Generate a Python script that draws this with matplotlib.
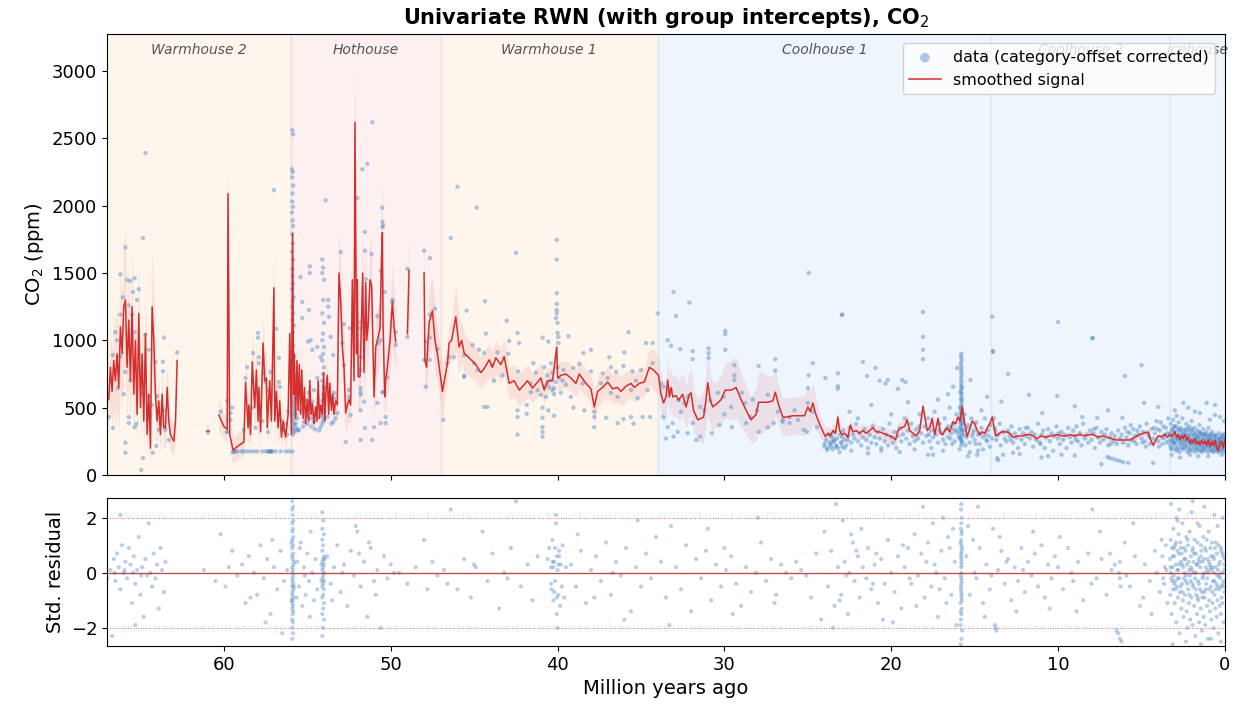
import matplotlib
matplotlib.use("Agg")
import matplotlib.pyplot as plt
import numpy as np

# climate states (Ma)
era_start = [67, 56, 47, 34, 14, 3.3]
era_end = [56, 47, 34, 14, 3.3, 0]
era_name = ["Warmhouse 2", "Hothouse", "Warmhouse 1", "Coolhouse 1", "Coolhouse 2", "Icehouse"]

# smoothed signal segments: (age Ma, CO2 ppm, band half-width)
seg_a = [(66.9, 560, 250), (66.8, 800, 300), (66.7, 620, 300), (66.6, 850, 350), (66.5, 700, 350),
         (66.4, 900, 400), (66.3, 650, 350), (66.2, 1100, 450), (66.1, 900, 400), (66.0, 1250, 500),
         (65.9, 1300, 500), (65.8, 800, 400), (65.7, 1150, 450), (65.6, 700, 350), (65.5, 1250, 500),
         (65.4, 600, 300), (65.3, 1000, 400), (65.2, 450, 250), (65.1, 1200, 450), (65.0, 500, 250),
         (64.9, 900, 350), (64.8, 400, 250), (64.7, 1050, 400), (64.6, 300, 200), (64.5, 600, 250),
         (64.4, 200, 150), (64.3, 1250, 450), (64.2, 1000, 400), (64.1, 600, 250), (64.0, 400, 200),
         (63.9, 550, 200), (63.8, 300, 150), (63.7, 600, 200), (63.6, 350, 150), (63.5, 350, 150),
         (63.4, 650, 200), (63.3, 400, 150), (63.2, 300, 120), (63.0, 250, 120), (62.9, 400, 150),
         (62.8, 850, 250)]
seg_b = [(61.0, 330, 40), (60.9, 330, 40)]
seg_c = [(60.3, 445, 120), (60.0, 360, 100), (59.8, 340, 100), (59.75, 2090, 500), (59.65, 300, 150),
         (59.45, 185, 100), (59.1, 220, 100), (58.8, 245, 100), (58.7, 690, 250), (58.55, 350, 150),
         (58.5, 520, 200), (58.4, 300, 150), (58.3, 840, 250), (58.15, 500, 200), (58.05, 780, 250),
         (57.95, 400, 200), (57.9, 650, 200), (57.8, 320, 150), (57.65, 980, 250), (57.55, 700, 200),
         (57.45, 720, 200), (57.4, 350, 150), (57.25, 700, 200), (57.15, 400, 150), (57.0, 1390, 350),
         (56.95, 400, 150), (56.85, 620, 200), (56.75, 350, 150), (56.65, 550, 150), (56.55, 280, 100),
         (56.45, 400, 120), (56.3, 280, 100), (56.15, 450, 120), (56.05, 1050, 200), (55.95, 300, 100),
         (55.88, 1790, 250), (55.82, 600, 150), (55.78, 900, 150), (55.7, 420, 100), (55.62, 850, 150),
         (55.55, 480, 100), (55.48, 820, 150), (55.4, 450, 100), (55.33, 780, 150), (55.25, 420, 100),
         (55.17, 650, 120), (55.1, 380, 80), (55.0, 560, 100), (54.92, 400, 80), (54.85, 700, 120),
         (54.78, 450, 80), (54.7, 530, 80), (54.6, 380, 80), (54.5, 500, 80), (54.42, 400, 80),
         (54.35, 700, 120), (54.27, 420, 80), (54.2, 520, 80), (54.1, 450, 80), (54.02, 760, 120),
         (53.95, 400, 80), (53.88, 620, 100), (53.8, 740, 120), (53.72, 450, 80), (53.65, 680, 100),
         (53.55, 480, 80), (53.48, 600, 100), (53.4, 450, 80), (53.3, 550, 100), (53.2, 520, 100),
         (53.1, 1500, 300), (53.0, 1300, 300), (52.9, 950, 250), (52.8, 800, 250), (52.7, 460, 150),
         (52.6, 520, 150), (52.5, 560, 150), (52.4, 520, 150), (52.3, 1450, 300), (52.2, 700, 250),
         (52.14, 2620, 500), (52.05, 900, 300), (52.0, 1450, 300), (51.95, 730, 250), (51.84, 730, 250),
         (51.76, 1100, 300), (51.68, 1500, 300), (51.6, 760, 250), (51.5, 1430, 300), (51.44, 1000, 250),
         (51.36, 1100, 250), (51.24, 1450, 300), (51.14, 1400, 300), (51.0, 580, 200), (50.9, 950, 250),
         (50.76, 1020, 250), (50.64, 1090, 250), (50.56, 1580, 350), (50.5, 1800, 400), (50.46, 1130, 300),
         (50.36, 580, 200), (50.3, 705, 200), (50.2, 800, 200), (50.04, 1000, 250), (49.9, 1285, 300),
         (49.8, 1100, 250), (49.7, 990, 250)]
seg_d = [(49.0, 1050, 150), (48.9, 1520, 300)]
seg_e = [(48.0, 1500, 250), (47.95, 850, 200), (47.85, 800, 200), (47.7, 1130, 250), (47.5, 1220, 250),
         (47.35, 1000, 250), (47.2, 900, 200), (46.9, 620, 200), (46.6, 830, 150), (46.5, 980, 150),
         (46.35, 1000, 150), (46.1, 1175, 250), (45.9, 950, 200), (45.75, 1000, 150), (45.6, 905, 150),
         (45.3, 870, 130), (44.9, 820, 130), (44.6, 760, 120), (44.4, 790, 120), (44.1, 855, 130),
         (43.9, 800, 120), (43.7, 870, 130), (43.4, 820, 120), (43.2, 880, 130), (42.9, 680, 120),
         (42.6, 700, 120), (42.3, 630, 120), (42.0, 670, 120), (41.8, 700, 120), (41.5, 645, 110),
         (41.2, 690, 110), (41.0, 720, 110), (40.8, 630, 110), (40.6, 700, 100), (40.3, 700, 100),
         (40.05, 950, 120), (40.0, 720, 100), (39.8, 740, 100), (39.5, 750, 100), (39.2, 720, 100),
         (38.9, 680, 100), (38.7, 750, 110), (38.3, 680, 100), (38.0, 640, 110), (37.8, 505, 120),
         (37.6, 620, 110), (37.3, 650, 110), (37.0, 690, 110), (36.7, 640, 110), (36.4, 650, 110),
         (36.2, 620, 110), (35.9, 660, 110), (35.6, 680, 110), (35.4, 650, 110), (35.1, 680, 110),
         (34.8, 690, 110), (34.5, 800, 130), (34.25, 780, 150), (33.95, 740, 150), (33.8, 600, 150),
         (33.65, 535, 150), (33.5, 580, 150), (33.4, 705, 150), (33.3, 580, 150), (33.2, 650, 150),
         (33.1, 580, 150), (32.9, 590, 150), (32.75, 555, 150), (32.5, 600, 160), (32.3, 505, 160),
         (32.1, 600, 170), (32.0, 610, 170), (31.85, 480, 160), (31.6, 410, 160), (31.4, 420, 180),
         (31.25, 430, 190), (31.1, 560, 200), (31.0, 685, 220), (30.85, 560, 200), (30.7, 505, 180),
         (30.55, 520, 170), (30.4, 535, 170), (30.2, 560, 180), (29.95, 630, 200), (29.6, 630, 220),
         (29.3, 650, 230), (29.0, 560, 200), (28.7, 480, 180), (28.4, 410, 170), (28.1, 450, 200),
         (27.95, 540, 230), (27.8, 540, 230), (27.4, 540, 200), (27.1, 550, 180), (26.95, 615, 170),
         (26.75, 520, 150), (26.5, 430, 140), (26.2, 430, 140), (25.9, 440, 140), (25.5, 440, 140),
         (25.2, 440, 150), (25.0, 505, 160), (24.85, 470, 150), (24.7, 535, 150), (24.55, 460, 120),
         (24.4, 410, 100), (24.2, 350, 80), (23.95, 285, 60), (23.8, 310, 55), (23.65, 290, 55),
         (23.5, 330, 55), (23.35, 310, 55), (23.2, 430, 60), (23.1, 330, 55), (22.95, 300, 55),
         (22.8, 310, 55), (22.6, 280, 50), (22.45, 370, 55), (22.3, 320, 50), (22.1, 330, 50),
         (21.9, 310, 50), (21.7, 330, 50), (21.5, 310, 50), (21.3, 330, 50), (21.1, 350, 55),
         (20.9, 320, 50), (20.7, 320, 50), (20.5, 310, 50), (20.3, 300, 50), (20.1, 290, 50),
         (19.9, 280, 50), (19.75, 260, 50), (19.6, 330, 55), (19.4, 350, 55), (19.2, 360, 55),
         (19.05, 410, 60), (18.9, 330, 50), (18.7, 310, 45), (18.5, 290, 45), (18.3, 330, 45),
         (18.1, 510, 60), (17.95, 400, 50), (17.85, 330, 45), (17.7, 350, 45), (17.55, 420, 50),
         (17.4, 300, 40), (17.2, 420, 45), (17.05, 310, 40), (16.9, 300, 40), (16.8, 330, 40),
         (16.65, 350, 40), (16.5, 320, 40), (16.3, 395, 40), (16.15, 380, 40), (16.0, 430, 40),
         (15.88, 400, 35), (15.75, 510, 45), (15.6, 380, 35), (15.45, 285, 35), (15.3, 340, 35),
         (15.15, 400, 35), (15.0, 380, 35), (14.85, 330, 35), (14.7, 300, 30), (14.55, 320, 30),
         (14.4, 310, 30), (14.25, 350, 30), (14.1, 380, 30), (13.95, 430, 35), (13.75, 290, 30),
         (13.6, 300, 25), (13.4, 320, 25), (13.1, 320, 25), (12.9, 310, 25), (12.7, 280, 25),
         (12.4, 290, 25), (12.1, 290, 25), (11.9, 300, 25), (11.7, 300, 25), (11.5, 290, 25),
         (11.3, 270, 25), (11.0, 290, 25), (10.8, 280, 25), (10.5, 290, 25), (10.3, 290, 25),
         (10.1, 300, 25), (9.8, 290, 25), (9.5, 290, 25), (9.3, 300, 25), (9.0, 290, 25),
         (8.7, 300, 25), (8.4, 290, 25), (8.1, 300, 25), (7.9, 300, 25), (7.6, 280, 25),
         (7.3, 290, 25), (7.1, 280, 25), (6.8, 270, 25), (6.5, 260, 25), (6.3, 260, 25),
         (6.0, 260, 25), (5.7, 260, 25), (5.4, 280, 25), (5.1, 300, 25), (4.85, 310, 25),
         (4.6, 320, 25), (4.45, 260, 25), (4.3, 220, 25), (4.15, 260, 25), (4.0, 290, 25),
         (3.8, 285, 25), (3.6, 300, 25), (3.45, 280, 25), (3.3, 300, 25), (3.15, 290, 25),
         (3.0, 320, 25), (2.9, 280, 25), (2.8, 300, 25), (2.7, 260, 25), (2.6, 290, 25),
         (2.5, 270, 25), (2.4, 300, 25), (2.3, 260, 25), (2.2, 280, 25), (2.1, 230, 25),
         (2.0, 260, 25), (1.9, 240, 25), (1.8, 270, 25), (1.7, 230, 25), (1.6, 250, 25),
         (1.5, 220, 25), (1.4, 260, 25), (1.3, 230, 25), (1.2, 250, 25), (1.1, 220, 25),
         (1.0, 260, 25), (0.9, 210, 25), (0.8, 250, 25), (0.7, 220, 25), (0.6, 260, 25),
         (0.5, 200, 25), (0.4, 180, 25), (0.3, 240, 25), (0.2, 250, 25), (0.1, 200, 25),
         (0.02, 260, 30)]

# CO2 data points (age Ma, ppm), per climate state
pts_wh2 = [(64.7, 2390), (64.85, 1760), (65.9, 1690), (66.2, 1490), (65.8, 1450), (65.6, 1440),
           (65.35, 1460), (65.45, 1360), (65.1, 1380), (65.2, 1300), (66.05, 1320), (66.2, 1190),
           (65.7, 1260), (65.5, 1190), (66.5, 1060), (65.35, 1060), (64.7, 1040), (64.5, 930),
           (63.6, 1020), (62.8, 910), (66.65, 890), (66.2, 880), (64.1, 840), (63.65, 840),
           (63.65, 770), (65.9, 765), (65.1, 795), (66.35, 645), (66.9, 430), (66.65, 350),
           (65.7, 430), (65.7, 385), (65.35, 355), (65.25, 380), (65.9, 240), (65.9, 165),
           (64.85, 125), (64.95, 37), (64.55, 415), (64.5, 585), (64.0, 585), (63.65, 480),
           (63.9, 335), (64.25, 165), (64.05, 215), (63.3, 260), (63.5, 335), (66.0, 600),
           (65.6, 700), (66.4, 1000), (64.9, 600), (64.3, 520), (63.8, 380), (60.95, 320),
           (60.2, 470), (59.8, 550), (59.8, 320), (59.5, 500), (59.45, 170), (59.6, 460),
           (59.6, 410), (59.8, 320), (59.4, 175), (59.3, 175), (59.2, 175), (58.95, 175),
           (58.8, 175), (58.6, 175), (58.4, 175), (58.2, 175), (58.0, 175), (57.7, 175),
           (57.5, 175), (57.35, 175), (57.3, 175), (57.25, 175), (57.2, 175), (57.15, 175),
           (57.1, 175), (56.9, 175), (56.6, 175), (56.3, 175), (56.1, 175), (55.9, 175),
           (57.95, 1055), (57.95, 1020), (58.25, 905), (58.6, 800), (58.7, 720), (57.9, 875),
           (57.9, 830), (57.6, 755), (57.5, 690), (57.2, 765), (57.0, 2115), (56.85, 1085),
           (56.7, 870), (56.7, 690), (56.65, 655), (57.3, 630), (57.2, 580), (56.9, 555),
           (56.6, 410), (56.4, 335), (57.35, 320), (58.1, 350), (58.45, 410), (58.8, 335),
           (56.15, 470), (56.3, 380), (56.5, 330), (57.7, 400), (58.3, 500), (56.2, 300)]
streak_56 = [(55.9, 2560), (55.85, 2530), (55.92, 2270), (55.87, 2250), (55.9, 2210), (55.85, 2150),
             (55.88, 2090), (55.9, 2030), (55.86, 1990), (55.92, 1950), (55.88, 1890), (55.85, 1850),
             (55.9, 1790), (55.87, 1720), (55.92, 1660), (55.85, 1600), (55.9, 1530), (55.88, 1480),
             (55.86, 1420), (55.9, 1380), (55.82, 1320), (55.88, 1290), (55.92, 1250), (55.85, 1200),
             (55.9, 1150), (55.8, 1110), (55.87, 1060), (55.93, 1000), (55.84, 960), (55.9, 920),
             (55.8, 880), (55.88, 840), (55.85, 800), (55.92, 770), (55.78, 740), (55.88, 700),
             (55.83, 670), (55.9, 640), (55.8, 610), (55.86, 580), (55.76, 560), (55.9, 540),
             (55.82, 520), (55.88, 500), (55.75, 480), (55.85, 460), (55.92, 440), (55.8, 420),
             (55.87, 400), (55.77, 380), (55.84, 360), (55.9, 340), (55.8, 320), (55.86, 300),
             (55.7, 380), (55.65, 350), (55.6, 420), (55.55, 330), (55.72, 330), (55.68, 450)]
pts_hot = [(54.1, 1600), (54.05, 1540), (54.1, 1500), (54.0, 1450), (54.05, 1300), (54.1, 1200),
           (54.0, 1130), (54.05, 1050), (54.1, 1000), (54.0, 950), (54.05, 900), (54.1, 850),
           (54.0, 800), (54.05, 750), (54.1, 700), (54.0, 650), (54.05, 600), (54.1, 550),
           (54.0, 500), (54.05, 470), (54.1, 440), (54.0, 420), (54.05, 400), (54.1, 380),
           (53.9, 2040), (54.85, 1550), (54.85, 1500), (55.4, 1470), (55.3, 1285), (54.9, 1225),
           (55.3, 1165), (54.8, 1000), (54.95, 990), (54.7, 930), (54.4, 950), (54.2, 875),
           (54.4, 720), (54.6, 630), (54.9, 610), (55.1, 555), (54.7, 545), (54.5, 500),
           (54.35, 430), (54.6, 395), (54.2, 355), (54.95, 430), (55.2, 395), (55.4, 480),
           (55.5, 335), (53.8, 430), (53.6, 545), (53.4, 570), (53.45, 395), (53.4, 610),
           (53.45, 890), (53.6, 1025), (53.7, 1175), (53.75, 1250), (53.75, 1300), (55.0, 380),
           (54.75, 360), (54.55, 340), (54.3, 330), (54.8, 420), (55.25, 360), (53.55, 380),
           (53.3, 420), (53.2, 460), (55.05, 450), (54.65, 460),
           (51.1, 2620), (51.7, 2270), (51.4, 2310), (52.0, 2055), (50.5, 1985), (50.5, 1880),
           (50.5, 1840), (50.45, 1855), (51.55, 1805), (51.55, 1665), (51.15, 1640), (53.0, 1655),
           (51.5, 1455), (50.6, 1515), (50.35, 1360), (49.9, 1300), (49.9, 1285), (49.7, 1060),
           (49.7, 965), (50.8, 1180), (52.8, 1120), (52.45, 1090), (52.9, 980), (52.8, 815),
           (51.8, 1135), (51.8, 1090), (51.8, 875), (51.8, 780), (51.8, 645), (51.8, 615),
           (51.8, 595), (51.8, 480), (51.6, 545), (52.5, 630), (52.5, 580), (52.4, 445),
           (52.7, 245), (51.8, 260), (51.1, 260), (51.55, 350), (51.0, 355), (50.6, 385),
           (50.3, 430), (50.3, 385), (50.8, 535), (50.5, 615), (50.45, 615), (50.2, 725),
           (50.75, 980), (50.6, 1000), (49.0, 1530), (49.0, 1025), (48.0, 1665), (47.65, 1610),
           (47.35, 1235), (47.65, 1190), (47.9, 990), (48.0, 855), (47.65, 855), (47.65, 1020),
           (47.9, 655), (47.2, 935)]
pts_wh1 = [(46.85, 410), (46.4, 1760), (46.0, 2140), (46.5, 875), (46.2, 875), (45.6, 890),
           (45.45, 1220), (45.6, 735), (46.6, 830), (44.85, 1985), (42.5, 1650), (40.05, 1745),
           (40.05, 1600), (40.05, 1350), (40.05, 1270), (40.05, 1225), (40.05, 1200), (40.1, 1165),
           (40.0, 1130), (40.0, 1055), (39.95, 1025), (39.95, 980), (43.05, 1145), (44.35, 1290),
           (34.0, 1200), (35.75, 1060), (34.7, 980), (34.3, 980), (44.3, 1050), (42.4, 1055),
           (42.9, 995), (42.3, 980), (40.9, 1020), (40.55, 990), (39.35, 1030), (38.0, 930),
           (38.45, 905), (36.9, 875), (36.0, 910), (45.1, 965), (44.7, 930), (44.4, 905),
           (43.6, 910), (42.95, 900), (44.8, 780), (43.95, 815), (43.3, 740), (45.6, 730),
           (42.35, 770), (41.45, 830), (40.8, 800), (40.4, 830), (40.0, 800), (39.65, 780),
           (39.05, 795), (38.7, 825), (38.0, 770), (37.3, 755), (36.8, 800), (36.5, 765),
           (36.05, 810), (35.5, 770), (35.0, 780), (34.3, 830), (41.6, 680), (41.2, 630),
           (40.8, 655), (40.6, 680), (40.3, 630), (40.2, 645), (39.8, 610), (39.5, 670),
           (39.2, 580), (40.4, 705), (40.7, 580), (41.0, 595), (41.6, 615), (38.5, 680),
           (37.4, 680), (36.8, 610), (36.4, 580), (35.6, 630), (35.2, 570), (34.6, 630),
           (33.8, 680), (44.2, 505), (44.4, 505), (42.4, 480), (42.4, 430), (42.4, 300),
           (41.85, 520), (41.85, 455), (40.9, 500), (40.9, 425), (40.9, 355), (40.9, 320),
           (40.9, 285), (40.55, 480), (40.2, 440), (39.05, 500), (38.4, 480), (37.8, 470),
           (37.8, 430), (37.8, 355), (37.1, 425), (36.4, 385), (36.05, 415), (35.6, 430),
           (35.45, 380), (34.9, 430), (34.45, 430), (40.6, 740), (40.3, 760), (40.1, 690),
           (39.9, 720), (40.5, 650), (40.2, 600), (39.7, 700), (41.3, 760), (43.8, 700),
           (45.0, 830), (37.0, 720), (35.3, 700)]
pts_cool1 = [(24.95, 1500), (33.05, 1360), (32.1, 1280), (32.9, 1180), (22.95, 1190), (29.95, 1070),
             (29.95, 1045), (33.4, 1000), (33.2, 960), (32.65, 935), (31.9, 920), (31.9, 860),
             (30.95, 940), (30.95, 905), (30.95, 870), (29.95, 930), (27.95, 810), (26.95, 860),
             (26.95, 775), (24.7, 830), (23.2, 755), (29.4, 815), (29.4, 740), (29.4, 705),
             (24.95, 740), (25.0, 645), (23.95, 720), (23.2, 660), (23.2, 640), (33.65, 655),
             (33.2, 630), (32.75, 555), (32.4, 535), (32.2, 580), (31.45, 505), (30.85, 555),
             (30.4, 610), (30.05, 580), (29.6, 505), (28.95, 610), (28.75, 535), (28.45, 430),
             (28.05, 480), (27.4, 595), (27.4, 355), (26.5, 410), (26.1, 430), (25.6, 410),
             (25.25, 335), (25.0, 535), (24.7, 470), (33.65, 430), (33.4, 355), (33.1, 385),
             (33.05, 285), (33.5, 270), (32.8, 320), (32.2, 310), (31.9, 385), (31.7, 260),
             (31.45, 285), (30.75, 310), (30.3, 370), (29.55, 355), (28.7, 385), (27.95, 320),
             (27.05, 385), (26.5, 395), (26.1, 385), (25.05, 320), (24.45, 355), (24.0, 210),
             (23.65, 225), (23.5, 245), (23.3, 210), (23.0, 240), (22.8, 200), (23.85, 185),
             (23.4, 260), (22.6, 260), (22.95, 285), (23.65, 300), (30.0, 450), (31.2, 480),
             (28.3, 560), (26.8, 470), (25.8, 480), (32.6, 470),
             (22.95, 1190), (18.1, 1210), (18.1, 1025), (18.1, 930), (18.1, 860), (21.7, 840),
             (20.95, 795), (21.45, 735), (20.7, 700), (20.35, 680), (20.2, 705), (19.35, 705),
             (19.15, 690), (19.6, 640), (16.05, 795), (16.3, 655), (15.25, 705), (14.25, 580),
             (17.8, 150), (17.5, 150), (15.4, 140), (14.85, 150), (22.5, 470), (21.2, 520),
             (20.0, 450), (19.0, 540), (17.2, 560), (16.6, 600), (14.6, 480), (22.0, 420),
             (24.0, 230), (23.9, 260), (23.8, 200), (23.75, 300), (23.7, 240), (23.6, 210),
             (23.55, 280), (23.5, 190), (23.45, 250), (23.4, 320), (23.3, 220), (23.25, 270),
             (23.2, 200), (23.1, 300), (23.0, 240), (22.95, 210), (22.9, 330), (22.8, 260),
             (22.7, 220), (22.6, 290), (22.5, 350), (22.4, 240), (22.3, 300), (22.2, 270),
             (22.1, 380), (22.0, 250), (21.9, 310), (21.8, 220), (21.7, 280), (21.6, 340),
             (21.5, 260), (21.4, 200), (21.3, 300), (21.2, 240), (21.1, 360), (21.0, 280),
             (20.9, 230), (20.8, 320), (20.7, 270), (20.6, 200), (20.5, 340), (20.4, 250),
             (20.3, 300), (20.2, 220), (20.1, 380), (20.0, 280), (19.9, 240), (19.8, 320),
             (19.7, 200), (19.6, 290), (19.5, 350), (19.4, 250), (19.3, 300), (19.2, 420),
             (19.1, 270), (19.0, 330), (18.9, 230), (18.8, 380), (18.7, 290), (18.6, 250),
             (18.5, 340), (18.4, 270), (18.3, 450), (18.2, 310), (18.1, 240), (18.0, 360),
             (17.9, 290), (17.8, 420), (17.7, 250), (17.6, 330), (17.5, 280), (17.4, 470),
             (17.3, 300), (17.2, 240), (17.1, 380), (17.0, 310), (16.9, 260), (16.8, 420),
             (16.7, 340), (16.6, 280), (16.5, 500), (16.4, 310), (16.3, 380), (16.2, 250),
             (16.1, 450), (16.05, 330), (15.7, 330), (15.6, 450), (15.5, 280), (15.4, 370),
             (15.3, 240), (15.2, 420), (15.1, 310), (15.0, 260), (14.9, 390), (14.8, 300),
             (14.7, 230), (14.6, 350), (14.5, 280), (14.4, 420), (14.3, 260), (14.2, 330),
             (14.1, 210), (14.05, 370), (17.6, 200), (16.9, 180), (15.9, 190), (15.3, 170),
             (14.8, 180), (14.5, 190), (18.6, 190), (19.5, 170), (20.6, 180), (21.4, 160),
             (22.4, 180), (23.1, 170), (18.35, 360), (17.15, 330), (16.45, 270), (16.25, 340),
             (15.05, 330), (14.35, 300), (16.75, 230), (17.75, 300), (15.55, 220), (14.95, 230),
             (15.65, 300), (15.95, 280), (16.15, 320), (15.45, 350), (15.75, 250), (16.35, 230),
             (15.15, 290), (14.65, 310), (14.25, 250), (14.15, 290), (13.95, 270), (16.55, 360)]
streak_16 = [(15.8, 900), (15.82, 880), (15.78, 860), (15.8, 840), (15.83, 820), (15.79, 800),
             (15.81, 780), (15.8, 760), (15.78, 740), (15.82, 720), (15.8, 700), (15.79, 680),
             (15.81, 660), (15.8, 640), (15.83, 620), (15.78, 600), (15.8, 580), (15.82, 560),
             (15.79, 540), (15.8, 520), (15.84, 500), (15.77, 480), (15.8, 460), (15.82, 440),
             (15.85, 420), (15.76, 400), (15.8, 380), (15.83, 360), (15.78, 340), (15.86, 320),
             (15.75, 300), (15.8, 280), (15.84, 260), (15.77, 240), (15.81, 220), (15.9, 350),
             (15.7, 420), (15.88, 500), (15.72, 380), (15.95, 300), (15.76, 650), (15.84, 610),
             (15.77, 560), (15.83, 470), (15.75, 450), (15.85, 390), (15.74, 330), (15.87, 270)]
pts_cool2 = [(13.9, 920), (13.92, 915), (13.85, 420), (13.8, 350), (13.7, 260), (13.6, 300),
             (13.5, 380), (13.45, 220), (13.3, 320), (13.2, 270), (13.1, 250), (13.0, 330),
             (12.9, 290), (12.8, 360), (12.7, 240), (12.6, 310), (12.5, 280), (12.4, 200),
             (12.3, 340), (12.2, 260), (12.1, 310), (12.0, 230), (11.9, 290), (11.8, 350),
             (11.7, 270), (11.6, 320), (11.5, 210), (11.4, 300), (11.3, 260), (11.2, 380),
             (11.1, 240), (11.0, 300), (10.9, 330), (10.8, 200), (10.7, 280), (10.6, 340),
             (10.5, 250), (10.4, 310), (10.3, 180), (10.2, 290), (10.1, 360), (10.0, 270),
             (9.9, 230), (9.8, 320), (9.7, 260), (9.6, 300), (9.5, 200), (9.4, 350),
             (9.3, 280), (9.2, 240), (9.1, 330), (9.0, 290), (8.9, 360), (8.8, 250),
             (8.7, 310), (8.6, 220), (8.5, 380), (8.4, 270), (8.3, 300), (8.2, 240),
             (8.1, 330), (8.0, 260), (7.9, 310), (7.8, 200), (7.7, 350), (7.6, 280),
             (7.5, 240), (7.4, 320), (7.3, 260), (7.2, 300), (7.1, 340), (7.0, 220),
             (6.9, 280), (6.8, 310), (6.7, 250), (6.6, 290), (6.5, 230), (6.4, 330),
             (6.3, 270), (6.2, 300), (6.1, 240), (6.0, 350), (5.9, 280), (5.8, 220),
             (5.7, 310), (5.6, 260), (5.5, 340), (5.4, 290), (5.3, 230), (5.2, 300),
             (5.1, 360), (5.0, 270), (4.9, 320), (4.8, 250), (4.7, 380), (4.6, 300),
             (4.5, 230), (4.4, 340), (4.3, 270), (4.2, 310), (4.1, 400), (4.0, 250),
             (3.9, 330), (3.8, 280), (3.7, 360), (3.6, 300), (3.5, 240), (3.4, 420),
             (13.95, 1175), (10.0, 1135), (10.05, 585), (9.0, 510), (7.95, 1015), (7.93, 1018),
             (6.0, 735), (5.0, 815), (4.85, 535), (4.0, 505), (10.95, 460), (8.55, 430),
             (7.65, 425), (7.0, 480), (6.15, 425), (11.75, 595), (13.0, 750), (13.4, 545),
             (7.4, 80), (7.05, 135), (6.9, 125), (6.7, 120), (6.5, 110), (6.3, 105),
             (6.1, 95), (5.8, 90), (4.3, 90), (13.65, 125), (13.6, 110), (13.3, 150),
             (12.7, 165), (12.3, 155), (11.0, 130), (10.6, 140), (9.8, 150), (9.0, 145),
             (13.75, 330), (12.85, 260), (11.95, 350), (11.05, 230), (9.95, 310), (8.95, 260),
             (7.85, 340), (6.85, 230), (5.85, 320), (4.95, 240), (4.05, 340), (3.55, 350),
             (3.75, 230), (3.65, 270), (3.45, 310), (3.35, 250), (3.85, 390), (3.95, 210),
             (4.25, 350), (4.55, 280), (4.75, 210), (5.25, 330), (5.45, 250), (5.65, 370)]
pts_ice = [(3.3, 310), (3.28, 220), (3.25, 380), (3.22, 260), (3.2, 190), (3.18, 340), (3.15, 290),
           (3.12, 230), (3.1, 410), (3.08, 270), (3.05, 320), (3.02, 200), (3.0, 360), (2.98, 250),
           (2.95, 300), (2.92, 180), (2.9, 440), (2.88, 280), (2.85, 330), (2.82, 210), (2.8, 260),
           (2.78, 390), (2.75, 300), (2.72, 170), (2.7, 240), (2.68, 350), (2.65, 280), (2.62, 200),
           (2.6, 320), (2.58, 260), (2.55, 420), (2.52, 230), (2.5, 300), (2.48, 190), (2.45, 340),
           (2.42, 270), (2.4, 220), (2.38, 310), (2.35, 250), (2.32, 380), (2.3, 200), (2.28, 290),
           (2.25, 170), (2.22, 330), (2.2, 240), (2.18, 280), (2.15, 210), (2.12, 360), (2.1, 260),
           (2.08, 190), (2.05, 300), (2.02, 230), (2.0, 400), (1.98, 270), (1.95, 180), (1.92, 320),
           (1.9, 240), (1.88, 290), (1.85, 200), (1.82, 350), (1.8, 260), (1.78, 170), (1.75, 310),
           (1.72, 230), (1.7, 280), (1.68, 190), (1.65, 330), (1.62, 250), (1.6, 210), (1.58, 290),
           (1.55, 180), (1.52, 370), (1.5, 240), (1.48, 270), (1.45, 200), (1.42, 310), (1.4, 230),
           (1.38, 170), (1.35, 280), (1.32, 250), (1.3, 340), (1.28, 190), (1.25, 260), (1.22, 220),
           (1.2, 300), (1.18, 180), (1.15, 270), (1.12, 240), (1.1, 320), (1.08, 200), (1.05, 280),
           (1.02, 170), (1.0, 250), (0.98, 350), (0.95, 210), (0.92, 270), (0.9, 190), (0.88, 300),
           (0.85, 230), (0.82, 180), (0.8, 260), (0.78, 320), (0.75, 200), (0.72, 240), (0.7, 280),
           (0.68, 170), (0.65, 250), (0.62, 210), (0.6, 300), (0.58, 190), (0.55, 260), (0.52, 230),
           (0.5, 180), (0.48, 280), (0.45, 200), (0.42, 250), (0.4, 170), (0.38, 310), (0.35, 220),
           (0.32, 190), (0.3, 270), (0.28, 240), (0.25, 180), (0.22, 290), (0.2, 210), (0.18, 250),
           (0.15, 190), (0.12, 280), (0.1, 230), (0.08, 170), (0.05, 260), (0.03, 200), (0.01, 280),
           (3.26, 290), (3.16, 250), (3.06, 360), (2.96, 230), (2.86, 270), (2.76, 340), (2.66, 230),
           (2.56, 290), (2.46, 250), (2.36, 330), (2.26, 260), (2.16, 300), (2.06, 250), (1.96, 340),
           (1.86, 260), (1.76, 230), (1.66, 290), (1.56, 240), (1.46, 310), (1.36, 210), (1.26, 300),
           (1.16, 230), (1.06, 250), (0.96, 290), (0.86, 270), (0.76, 220), (0.66, 290), (0.56, 220),
           (0.46, 240), (0.36, 270), (0.26, 220), (0.16, 300), (0.06, 230),
           (3.24, 200), (3.14, 330), (3.04, 240), (2.94, 360), (2.84, 190), (2.74, 280), (2.64, 330),
           (2.54, 200), (2.44, 300), (2.34, 220), (2.24, 350), (2.14, 180), (2.04, 330), (1.94, 220),
           (1.84, 300), (1.74, 200), (1.64, 270), (1.54, 320), (1.44, 180), (1.34, 300), (1.24, 200),
           (1.14, 300), (1.04, 220), (0.94, 240), (0.84, 300), (0.74, 180), (0.64, 230), (0.54, 290),
           (0.44, 210), (0.34, 250), (0.24, 270), (0.14, 220), (0.04, 300),
           (2.5, 535), (1.1, 535), (0.6, 520), (0.6, 445), (3.0, 480), (1.8, 470), (0.3, 430),
           (2.2, 500), (1.5, 460), (0.9, 410), (0.05, 400), (2.7, 130), (1.6, 140), (0.2, 150),
           (3.2, 150), (2.1, 150), (1.0, 140)]

# standardised residuals (age Ma, z)
res_wh2 = [(66.8, 0.1), (66.6, 0.5), (66.5, -0.3), (66.4, 0.7), (66.3, 0.2), (66.2, -0.6), (66.1, 1.0),
           (66.0, 0.0), (65.9, 0.4), (65.8, -0.2), (65.7, 0.9), (65.6, 0.3), (65.5, -1.1), (65.4, 0.6),
           (65.3, -0.4), (65.2, 0.1), (65.1, 1.3), (65.0, -0.8), (64.9, 0.2), (64.8, -1.6), (64.7, 0.5),
           (64.6, -0.1), (64.5, 1.8), (64.4, 0.0), (64.3, -0.5), (64.2, 0.7), (64.1, -0.2), (64.0, 0.3),
           (63.9, -1.3), (63.8, 0.9), (63.7, 0.1), (63.6, -0.7), (63.5, 0.4), (66.7, -2.3), (66.2, 2.1),
           (65.3, -1.9), (67.0, -0.2), (66.55, 0.0), (65.95, 0.1), (65.45, 0.0), (64.95, -0.1),
           (61.2, 0.1), (60.5, -0.3), (60.2, 1.4), (59.9, -0.5), (59.5, 0.8), (59.2, -0.1), (58.9, 0.3),
           (58.7, -1.1), (58.5, 0.6), (58.2, 0.0), (58.0, -0.8), (57.8, 1.0), (57.6, -0.2), (57.4, 0.5),
           (57.2, -1.5), (57.0, 0.2), (56.8, -0.6), (56.6, 0.8), (56.4, -0.3), (56.2, 0.1), (58.4, -0.9),
           (57.1, 1.2), (59.7, 0.2), (56.5, -2.2), (57.5, -1.8)]
res_hot = [(55.9, 2.6), (55.85, 2.4), (55.9, 2.3), (55.88, 2.1), (55.85, 1.9), (55.9, 1.8), (55.87, 1.6),
           (55.9, 1.5), (55.84, 1.3), (55.9, 1.2), (55.86, 1.0), (55.9, 0.9), (55.85, 0.7), (55.9, 0.6),
           (55.88, 0.5), (55.83, 0.3), (55.9, 0.2), (55.86, 0.1), (55.9, 0.0), (55.84, -0.1),
           (55.9, -0.2), (55.87, -0.3), (55.85, -0.4), (55.9, -0.5), (55.82, -0.6), (55.88, -0.7),
           (55.9, -0.8), (55.85, -0.9), (55.88, -1.0), (55.9, -1.1), (55.86, -1.2), (55.9, -1.3),
           (55.84, -1.4), (55.88, -1.5), (55.9, -1.7), (55.86, -1.8), (55.9, -2.0), (55.85, -2.2),
           (55.9, -2.4), (55.8, 0.4), (55.8, -0.5), (55.95, 1.1), (55.95, -1.0),
           (55.6, 0.4), (55.5, -0.5), (55.4, 1.1), (55.3, -1.2), (55.2, 0.2), (55.1, -0.8), (55.0, 0.7),
           (54.9, -0.3), (54.8, 1.5), (54.7, 0.0), (54.6, -1.0), (55.45, 0.9), (55.15, -0.1),
           (54.85, -1.6), (55.65, -0.9), (54.5, 0.5), (54.4, -0.6),
           (54.1, 2.2), (54.05, 1.9), (54.1, 1.6), (54.0, 1.4), (54.1, 1.2), (54.05, 1.0), (54.1, 0.8),
           (54.0, 0.6), (54.05, 0.5), (54.1, 0.4), (54.0, 0.3), (54.05, 0.2), (54.1, 0.1), (54.0, 0.0),
           (54.05, -0.1), (54.1, -0.2), (54.0, -0.3), (54.05, -0.4), (54.1, -0.5), (54.0, -0.6),
           (54.05, -0.8), (54.1, -0.9), (54.0, -1.1), (54.05, -1.3), (54.1, -1.5), (54.0, -1.7),
           (54.05, -2.0), (54.1, -2.3), (54.15, 0.3), (54.15, -0.3), (53.95, 0.5),
           (53.8, 0.6), (53.6, -0.4), (53.4, 0.2), (53.2, 1.0), (53.0, -0.7), (52.8, 0.3), (52.6, -1.2),
           (52.4, 0.8), (52.2, -0.1), (52.0, 1.5), (51.8, -0.5), (51.6, 0.4), (51.4, -1.6), (51.2, 0.9),
           (51.0, -0.3), (50.8, 0.1), (50.6, -2.0), (50.4, 0.6), (50.2, -0.2), (50.0, 0.3), (49.5, 0.0),
           (49.0, -0.4), (48.5, 0.2), (48.0, 1.2), (47.8, -0.6), (47.5, 0.4), (47.2, -0.1), (52.9, 0.0),
           (51.9, 0.7), (50.9, -0.8), (53.5, -1.0), (52.1, 1.7), (51.3, 1.1), (49.8, 0.0)]
res_wh1 = [(46.8, 0.1), (46.4, 2.3), (46.0, -0.6), (45.6, 0.5), (45.2, -0.9), (44.9, 0.2), (44.5, 1.5),
           (44.2, -0.3), (43.9, 0.7), (43.5, -1.3), (43.2, 0.0), (42.8, 0.9), (42.5, 2.6), (42.2, -0.5),
           (41.8, 0.3), (41.5, -1.0), (41.2, 0.6), (45.0, 0.3), (43.0, -0.2), (46.6, -0.4),
           (40.6, 0.5), (40.5, 0.9), (40.4, 0.2), (40.35, -0.6), (40.3, 1.2), (40.25, -1.0), (40.2, 0.4),
           (40.15, -0.3), (40.1, 1.8), (40.05, -1.5), (40.0, 0.1), (39.95, -0.8), (39.9, 0.6),
           (39.85, -1.2), (39.8, 0.3), (39.75, -0.5), (39.7, 1.0), (39.6, -0.9), (39.5, 0.2),
           (40.0, -2.0), (40.1, 2.1), (40.2, -0.7), (39.9, 0.8), (40.4, -0.4), (40.3, 0.4),
           (40.05, 0.6), (40.15, 0.9), (39.95, 0.3), (40.25, 0.2), (40.05, -0.9),
           (39.2, 0.3), (38.9, -0.5), (38.6, 0.8), (38.3, -1.1), (38.0, 0.1), (37.7, 0.6), (37.4, -0.3),
           (37.1, 1.1), (36.8, -0.8), (36.5, 0.4), (36.2, -0.1), (35.9, 0.9), (35.6, -1.4), (35.3, 0.2),
           (35.0, -0.5), (34.7, 0.7), (34.4, -0.2), (34.1, 1.3), (38.8, 1.4), (36.0, -1.7), (35.2, 1.9),
           (37.8, -0.9), (36.7, 0.0)]
res_cool1 = [(33.8, 0.4), (33.5, -0.9), (33.2, 1.7), (32.9, 0.2), (32.6, -0.6), (32.3, 1.0), (32.0, -1.4),
             (31.7, 0.5), (31.4, -0.2), (31.1, 0.8), (30.8, -1.0), (30.5, 0.3), (30.2, -0.5), (29.9, 0.1),
             (29.6, 0.6), (29.3, -0.4), (29.0, -1.2), (28.7, 0.2), (28.4, -0.7), (28.1, 0.0), (27.8, 1.1),
             (27.5, -0.3), (27.2, 0.5), (26.9, -0.8), (26.6, 0.3), (26.3, 0.0), (26.0, -0.2), (25.7, 0.4),
             (25.4, 0.1), (25.1, -0.1), (24.8, -0.9), (24.5, 0.7), (24.2, -1.7), (33.3, -1.9), (31.0, 1.6),
             (29.5, -1.5), (28.0, 2.0), (30.0, 0.9), (27.0, -1.1),
             (24.0, 1.5), (23.8, -0.5), (23.6, 0.8), (23.4, -1.2), (23.3, 2.5), (23.2, 0.2), (23.0, -0.8),
             (22.9, 1.9), (22.8, 0.4), (22.6, -1.5), (22.5, 0.0), (22.3, 1.1), (22.2, -0.3), (22.0, 0.6),
             (21.9, -0.9), (21.7, 0.2), (21.5, -0.2), (21.4, 0.9), (21.2, -0.6), (21.0, 0.3), (20.8, -1.1),
             (20.6, 0.5), (20.4, -0.4), (20.2, 1.2), (20.0, 0.0), (19.8, -0.7), (19.6, 0.6), (19.4, -1.3),
             (19.2, 0.2), (19.0, 0.9), (18.8, -0.4), (18.6, 1.4), (18.4, -0.1), (18.2, 0.7), (18.0, -0.9),
             (17.8, 1.1), (17.6, -0.5), (17.4, 0.3), (17.2, -1.6), (17.0, 0.8), (16.8, -0.2), (16.6, 1.3),
             (16.4, -0.8), (16.2, 0.4), (16.1, -1.9), (18.1, 2.4), (17.5, 1.8), (16.9, 2.0), (19.9, -1.8),
             (21.8, 1.6), (23.5, -2.0), (22.7, -0.1), (20.5, -1.7), (18.5, -1.2), (17.3, 0.0), (16.5, 0.9),
             (19.3, 1.0), (21.1, -0.4), (22.1, 0.8), (23.1, -1.0), (22.4, 1.4), (17.9, 0.4), (16.7, -1.1),
             (18.9, -0.2), (20.9, 0.7), (17.1, -0.6), (16.3, 1.6),
             (15.8, 2.5), (15.82, 2.3), (15.78, 2.0), (15.8, 1.8), (15.83, 1.6), (15.79, 1.4), (15.81, 1.2),
             (15.8, 1.0), (15.78, 0.8), (15.82, 0.6), (15.8, 0.5), (15.79, 0.3), (15.81, 0.2), (15.8, 0.0),
             (15.83, -0.1), (15.78, -0.3), (15.8, -0.4), (15.82, -0.6), (15.79, -0.8), (15.8, -0.9),
             (15.84, -1.1), (15.77, -1.3), (15.8, -1.5), (15.82, -1.7), (15.85, -1.9), (15.76, -2.1),
             (15.8, -2.4), (15.83, -2.6), (15.8, 0.7), (15.8, -0.2), (15.8, 0.4), (15.8, -0.7),
             (15.77, 1.5), (15.84, 1.1), (15.76, 0.9), (15.83, -0.5), (15.77, -1.0), (15.84, -1.4)]
res_cool2 = [(15.5, 0.6), (15.3, -0.8), (15.1, 1.2), (14.9, -0.2), (14.7, 0.9), (14.5, -1.1), (14.3, 0.3),
             (14.1, -0.6), (13.9, 1.6), (13.8, -1.9), (13.7, -2.1), (13.6, 0.1), (13.4, 0.8), (13.2, -0.4),
             (13.0, 0.5), (12.8, -1.0), (12.6, 0.2), (12.4, -0.3), (12.2, 0.9), (12.0, -0.7), (11.8, 0.4),
             (11.6, -0.1), (11.4, 0.7), (11.2, -0.5), (11.0, 1.0), (10.8, -0.9), (10.6, 0.3), (10.4, -0.2),
             (10.2, 0.6), (15.4, 1.7), (14.8, 2.4), (14.4, -1.6), (13.5, 1.3), (12.5, -1.4), (11.5, 1.5),
             (10.5, -1.3), (15.0, 0.0), (14.0, -0.1), (13.1, 0.4), (12.1, 0.1), (13.75, -2.0),
             (10.0, 0.2), (9.7, -0.6), (9.4, 0.9), (9.1, -0.3), (8.8, 0.4), (8.5, -1.0), (8.2, 0.7),
             (7.95, 2.3), (7.7, -0.2), (7.4, 0.5), (7.1, -0.8), (6.8, 0.1), (6.5, -2.1), (6.4, -2.2),
             (6.3, -2.4), (6.2, -2.5), (6.6, 0.3), (6.3, -0.2), (6.3, 0.4), (6.0, 1.1), (5.7, -0.5),
             (5.4, 0.6), (5.1, -1.2), (4.8, 0.3), (4.5, -0.3), (4.2, 0.8), (3.9, -0.7), (3.6, 0.2),
             (9.9, 1.3), (8.9, -1.4), (7.5, 1.5), (5.5, 1.8), (4.4, -1.5), (3.8, 1.2), (9.2, 0.0),
             (8.0, -0.4), (6.9, 0.7), (5.9, -0.1), (4.9, -0.9), (4.1, 0.0), (6.35, 0.0), (6.25, -0.5),
             (3.75, 0.6), (3.65, -0.4), (3.55, 1.0), (3.45, -1.1), (3.5, 0.1), (3.7, -0.2)]
res_ice = [(3.3, 0.5), (3.28, -0.8), (3.25, 1.2), (3.22, -0.2), (3.2, -1.5), (3.18, 0.9), (3.15, 0.2),
           (3.12, -0.6), (3.1, 1.6), (3.08, -0.1), (3.05, 0.6), (3.02, -1.1), (3.0, 1.0), (2.98, -0.3),
           (2.95, 0.3), (2.92, -1.8), (2.9, 2.0), (2.88, -0.5), (2.85, 0.8), (2.82, -0.9), (2.8, 0.1),
           (2.78, 1.4), (2.75, -0.2), (2.72, -2.2), (2.7, -0.7), (2.68, 1.1), (2.65, 0.4), (2.62, -1.3),
           (2.6, 0.7), (2.58, -0.4), (2.55, 1.8), (2.52, -1.0), (2.5, 0.2), (2.48, -1.6), (2.45, 0.9),
           (2.42, 0.0), (2.4, -0.8), (2.38, 0.5), (2.35, -0.3), (2.32, 1.3), (2.3, -1.4), (2.28, 0.3),
           (2.25, -2.0), (2.22, 1.0), (2.2, -0.6), (2.18, 0.4), (2.15, -1.1), (2.12, 1.5), (2.1, -0.1),
           (2.08, -1.7), (2.05, 0.6), (2.02, -0.9), (2.0, 2.2), (1.98, 0.1), (1.95, -1.9), (1.92, 0.9),
           (1.9, -0.5), (1.88, 0.4), (1.85, -1.2), (1.82, 1.2), (1.8, -0.2), (1.78, -2.3), (1.75, 0.7),
           (1.72, -0.8), (1.7, 0.3), (1.68, -1.5), (1.65, 1.1), (1.62, -0.3), (1.6, -1.0), (1.58, 0.5),
           (1.55, -1.8), (1.52, 1.7), (1.5, -0.6), (1.48, 0.2), (1.45, -1.3), (1.42, 0.8), (1.4, -0.7),
           (1.38, -2.1), (1.35, 0.4), (1.32, -0.1), (1.3, 1.3), (1.28, -1.6), (1.25, 0.0), (1.22, -0.9),
           (1.2, 0.9), (1.18, -1.9), (1.15, 0.2), (1.12, -0.4), (1.1, 1.2), (1.08, -1.2), (1.05, 0.5),
           (1.02, -2.4), (1.0, 0.0), (0.98, 1.5), (0.95, -1.0), (0.92, 0.3), (0.9, -1.4), (0.88, 0.9),
           (0.85, -0.5), (0.82, -1.7), (0.8, 0.1), (0.78, 1.1), (0.75, -1.1), (0.72, -0.3), (0.7, 0.6),
           (0.68, -2.0), (0.65, 0.0), (0.62, -0.8), (0.6, 0.9), (0.58, -1.3), (0.55, 0.2), (0.52, -0.4),
           (0.5, -1.6), (0.48, 0.7), (0.45, -1.0), (0.42, 0.1), (0.4, -2.2), (0.38, 1.0), (0.35, -0.6),
           (0.32, -1.2), (0.3, 0.4), (0.28, -0.2), (0.25, -1.5), (0.22, 0.8), (0.2, -0.9), (0.18, 0.0),
           (0.15, -1.1), (0.12, 0.6), (0.1, -0.5), (0.08, -1.8), (0.05, 0.3), (0.03, -0.7), (0.01, 0.5),
           (3.26, 0.2), (3.16, -0.3), (3.06, 0.9), (2.96, -0.6), (2.86, 0.1), (2.76, 0.7), (2.66, -0.5),
           (2.56, 0.3), (2.46, -0.2), (2.36, 0.8), (2.26, -0.4), (2.16, 0.1), (2.06, -0.3), (1.96, 0.8),
           (1.86, 0.0), (1.76, -0.6), (1.66, 0.3), (1.56, -0.4), (1.46, 0.6), (1.36, -0.9), (1.26, 0.5),
           (1.16, -0.6), (1.06, -0.2), (0.96, 0.4), (0.86, 0.2), (0.76, -0.7), (0.66, 0.5), (0.56, -0.6),
           (0.46, -0.1), (0.36, 0.3), (0.26, -0.5), (0.16, 0.7), (0.06, -0.3),
           (3.24, 0.0), (3.14, 0.6), (3.04, -0.4), (2.94, 1.1), (2.84, -0.2), (2.74, 0.3), (2.64, 0.9),
           (2.54, -0.7), (2.44, 0.5), (2.34, -0.1), (2.24, 1.2), (2.14, -0.8), (2.04, 0.2), (1.94, -0.4),
           (1.84, 0.7), (1.74, 0.0), (1.64, -0.9), (1.54, 0.4), (1.44, 1.0), (1.34, -0.2), (1.24, -0.7),
           (1.14, 0.8), (1.04, 0.1), (0.94, -0.6), (0.84, 0.6), (0.74, 0.2), (0.64, -0.3), (0.54, 1.1),
           (0.44, -0.5), (0.34, -0.1), (0.24, 0.9), (0.14, -0.4), (0.04, 0.1),
           (3.24, 2.5), (2.74, 2.3), (1.94, 2.6), (1.24, 2.4), (0.64, 2.1), (0.14, 2.0), (3.14, -2.6),
           (2.34, -2.5), (1.44, -2.6), (0.84, -2.4), (0.24, -2.5), (2.84, 1.9), (1.64, 1.8), (0.44, 1.7)]

ERA_FACE = {"Warmhouse 2": "#fef6ed", "Hothouse": "#fcf0f0", "Warmhouse 1": "#fef6ed",
            "Coolhouse 1": "#eef5fc", "Coolhouse 2": "#eef5fc", "Icehouse": "#eef5fc"}
ERA_EDGE = {"Warmhouse 2": "#f6e4d2", "Hothouse": "#f5dada", "Warmhouse 1": "#f6e4d2",
            "Coolhouse 1": "#dce9f5", "Coolhouse 2": "#dce9f5", "Icehouse": "#dce9f5"}
DOT = "#4f88c6"
RED = "#d32f2f"

segments = [np.array(s, dtype=float) for s in (seg_a, seg_b, seg_c, seg_d, seg_e)]
pts = np.array(pts_wh2 + streak_56 + pts_hot + pts_wh1 + pts_cool1 + streak_16 + pts_cool2 + pts_ice,
               dtype=float)
res = np.array(res_wh2 + res_hot + res_wh1 + res_cool1 + res_cool2 + res_ice, dtype=float)

fig = plt.figure(figsize=(12.42, 7.12), dpi=100)
ax = fig.add_axes([0.0862, 0.3329, 0.9001, 0.6194])
axr = fig.add_axes([0.0862, 0.0927, 0.9001, 0.2079], sharex=ax)

for start, end, name in zip(era_start, era_end, era_name):
    ax.axvspan(end, start, facecolor=ERA_FACE[name], edgecolor=ERA_EDGE[name], lw=1, zorder=0)
    ax.text((start + end) / 2, 0.964, name, transform=ax.get_xaxis_transform(),
            ha="center", va="center", style="italic", fontsize=10, color="#555555", zorder=1)

for seg in segments:
    ax.fill_between(seg[:, 0], seg[:, 1] - seg[:, 2], seg[:, 1] + seg[:, 2],
                    color=RED, alpha=0.1, lw=0, zorder=1)

ax.scatter(pts[:, 0], pts[:, 1], s=10, color=DOT, alpha=0.45, edgecolors="none", zorder=2,
           label="data (category-offset corrected)")

first = True
for seg in segments:
    ax.plot(seg[:, 0], seg[:, 1], color=RED, lw=1.1, zorder=3,
            label="smoothed signal" if first else None)
    first = False

ax.set_xlim(67, 0)
ax.set_ylim(0, 3275)
ax.set_yticks([0, 500, 1000, 1500, 2000, 2500, 3000])
ax.set_ylabel("CO$_2$ (ppm)", fontsize=14)
ax.set_title("Univariate RWN (with group intercepts), CO$_2$", fontsize=15, fontweight="bold", pad=7)
ax.tick_params(labelsize=13, labelbottom=False)
ax.legend(loc="upper right", fontsize=11.4, markerscale=2.2, framealpha=0.8,
          borderaxespad=0.6)

axr.scatter(res[:, 0], res[:, 1], s=9, color=DOT, alpha=0.4, edgecolors="none", zorder=2)
axr.axhline(0, color="#b22222", lw=1, alpha=0.8, zorder=3)
axr.axhline(2, color="#e06666", lw=0.7, ls=":", zorder=1)
axr.axhline(-2, color="#e06666", lw=0.7, ls=":", zorder=1)
axr.set_ylim(-2.66, 2.72)
axr.set_yticks([-2, 0, 2])
axr.set_xticks([60, 50, 40, 30, 20, 10, 0])
axr.set_ylabel("Std. residual", fontsize=14)
axr.set_xlabel("Million years ago", fontsize=14)
axr.tick_params(labelsize=13)

fig.savefig("out.png", dpi=100)
